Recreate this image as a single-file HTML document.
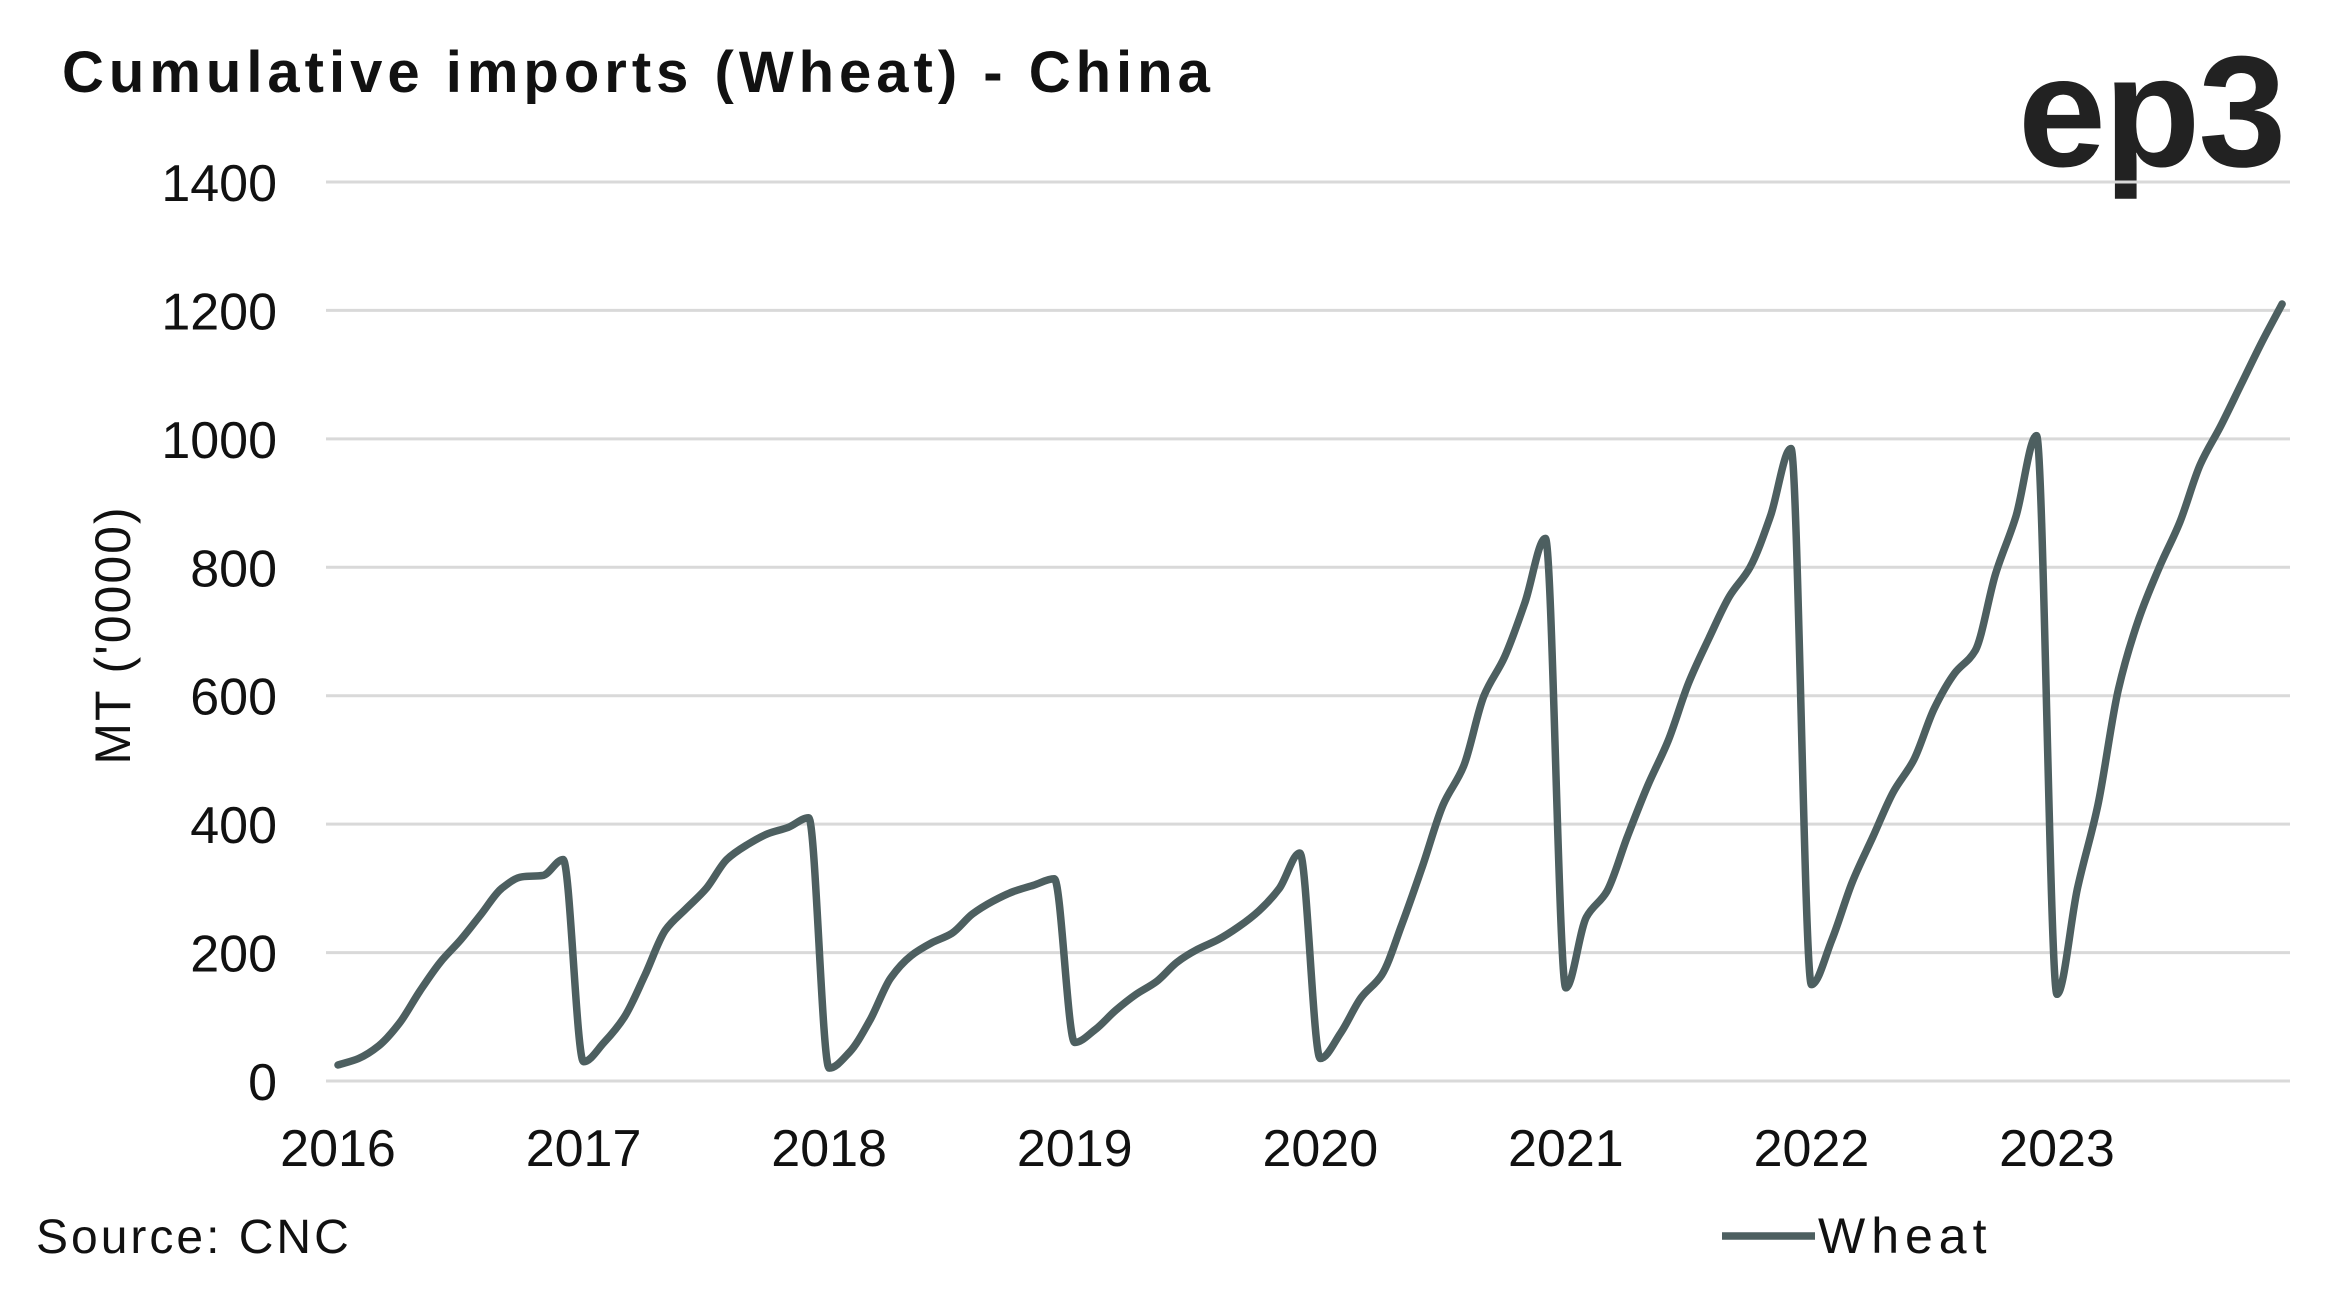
<!DOCTYPE html>
<html><head><meta charset="utf-8"><style>
html,body{margin:0;padding:0;background:#fff;}
svg{display:block;font-family:"Liberation Sans",sans-serif;}
</style></head><body>
<svg id="chart" width="2342" height="1302" viewBox="0 0 2342 1302">
<text x="62" y="92" font-size="58" font-weight="bold" fill="#111" letter-spacing="5">Cumulative imports (Wheat) - China</text>
<text x="2018" y="166" font-size="158" font-weight="bold" fill="#222" letter-spacing="-2">ep3</text>
<text transform="translate(130,635) rotate(-90)" text-anchor="middle" font-size="50" fill="#111" letter-spacing="2">MT ('0000)</text>
<g id="grid"></g><g id="yticks"></g><g id="xticks"></g>
<path id="line" fill="none" stroke="#4d5f60" stroke-width="7.5" stroke-linejoin="round" stroke-linecap="round"></path>
<text x="36" y="1253" font-size="48" fill="#111" letter-spacing="3">Source: CNC</text>
<line x1="1722" y1="1236" x2="1815" y2="1236" stroke="#4d5f60" stroke-width="7.5"/>
<text x="1818" y="1253" font-size="50" fill="#111" letter-spacing="6">Wheat</text>
</svg>
<script>
const yTicks=[0,200,400,600,800,1000,1200,1400];
const xYears=["2016","2017","2018","2019","2020","2021","2022","2023"];
const values2016=[25,35,55,90,140,185,220,260,300,318,320,345];
const values2017=[30,60,100,165,235,268,300,345,368,385,395,410];
const values2018=[20,45,95,160,195,215,230,260,280,295,305,315];
const values2019=[60,80,110,135,155,185,205,220,240,265,300,355];
const values2020=[35,75,130,165,245,335,430,490,600,660,745,845];
const values2021=[145,255,295,380,460,530,620,690,755,800,880,985];
const values2022=[150,220,310,380,450,500,580,635,670,790,880,1005];
const values2023=[135,300,430,610,720,800,870,960,1020,1085,1150,1210];
const series=[].concat(values2016,values2017,values2018,values2019,values2020,values2021,values2022,values2023);
const NS="http://www.w3.org/2000/svg";
const x=i=>338+i*(2057-338)/84;
const y=v=>1081-v*(1081-182)/1400;
const grid=document.getElementById('grid'),yt=document.getElementById('yticks'),xt=document.getElementById('xticks');
yTicks.forEach(t=>{
 const l=document.createElementNS(NS,'line');
 l.setAttribute('x1',326);l.setAttribute('x2',2290);l.setAttribute('y1',y(t));l.setAttribute('y2',y(t));
 l.setAttribute('stroke','#d9d9d9');l.setAttribute('stroke-width',3);
 
 
 grid.appendChild(l);
 const tx=document.createElementNS(NS,'text');
 tx.setAttribute('x',277);tx.setAttribute('y',y(t)+19);tx.setAttribute('text-anchor','end');
 tx.setAttribute('font-size',52);tx.setAttribute('fill','#111');tx.textContent=t;
 
 
 yt.appendChild(tx);
});
xYears.forEach((yr,k)=>{
 const tx=document.createElementNS(NS,'text');
 tx.setAttribute('x',x(k*12));tx.setAttribute('y',1166);tx.setAttribute('text-anchor','middle');
 tx.setAttribute('font-size',52);tx.setAttribute('fill','#111');tx.textContent=yr;
 
 
 xt.appendChild(tx);
});
// monotone cubic interpolation (no overshoot)
const n=series.length;
const px=series.map((v,i)=>x(i)), py=series.map(v=>y(v));
const dx=px[1]-px[0];
const sl=[];for(let i=0;i<n-1;i++)sl.push((py[i+1]-py[i])/dx);
const m=new Array(n);
m[0]=sl[0];m[n-1]=sl[n-2];
for(let i=1;i<n-1;i++){
 if(sl[i-1]*sl[i]<=0)m[i]=0;
 else m[i]=2/(1/sl[i-1]+1/sl[i]);
}
let d='M'+px[0]+','+py[0];
for(let i=0;i<n-1;i++){
 const h=dx/3;
 d+=' C'+(px[i]+h)+','+(py[i]+m[i]*h)+' '+(px[i+1]-h)+','+(py[i+1]-m[i+1]*h)+' '+px[i+1]+','+py[i+1];
}
document.getElementById('line').setAttribute('d',d);
</script>
</body></html>
